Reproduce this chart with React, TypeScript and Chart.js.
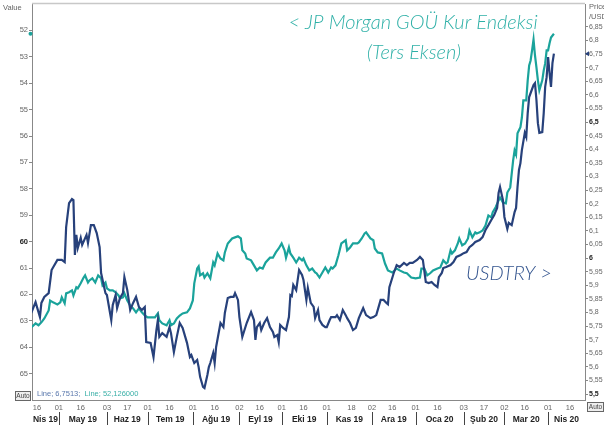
import React, { useEffect, useRef } from 'react';
import { Chart, registerables } from 'chart.js';

Chart.register(...registerables);

// Day offsets are days since 2019-04-12
const START_DATE = '2019-04-12';

const usdDays = [0,3,6,7,9,12,14,18,21,23,24,26,28,29,30,31,32,34,35,38,39,41,43,45,47,48,51,52,55,56,58,59,61,63,64,66,68,70,72,74,76,78,79,82,84,86,87,88,90,93,95,96,98,100,102,104,107,109,110,112,114,115,116,118,119,121,122,123,125,126,127,130,132,133,135,137,139,140,142,143,145,148,151,153,154,155,157,158,160,162,164,166,167,169,170,171,173,175,177,178,179,180,182,183,184,186,187,189,190,192,194,195,197,198,200,202,203,205,206,209,210,212,214,216,217,219,221,223,225,228,230,233,235,237,240,242,244,245,246,249,251,253,256,258,260,262,265,267,269,271,273,275,277,279,280,282,283,285,288,290,292,295,297,299,301,303,305,308,310,312,314,316,318,320,321,322,324,325,327,328,330,332,333,334,335,336,337,339,340,341,342,345,346,347,348,349,351,352,353,354,355,356,357,358,359];
const usdVals = [5.798,5.838,5.783,5.835,5.857,5.871,5.956,5.993,5.993,5.985,6.114,6.202,6.217,6.213,6.011,6.085,6.037,6.074,6.048,6.085,6.055,6.121,6.121,6.092,6.040,5.945,5.871,5.864,5.772,5.827,5.864,5.816,5.853,5.871,5.930,5.882,5.809,5.835,5.857,5.820,5.809,5.820,5.691,5.688,5.636,5.735,5.772,5.710,5.724,5.710,5.746,5.724,5.654,5.710,5.761,5.743,5.688,5.636,5.643,5.614,5.625,5.599,5.563,5.526,5.522,5.570,5.599,5.614,5.651,5.614,5.673,5.761,5.746,5.798,5.853,5.857,5.857,5.871,5.846,5.783,5.710,5.761,5.801,5.772,5.699,5.746,5.761,5.735,5.761,5.779,5.746,5.728,5.710,5.717,5.691,5.754,5.743,5.735,5.783,5.864,5.860,5.901,5.882,5.919,5.956,5.938,5.919,5.846,5.890,5.835,5.820,5.779,5.809,5.772,5.754,5.746,5.746,5.772,5.783,5.783,5.790,5.772,5.809,5.790,5.779,5.761,5.735,5.743,5.779,5.816,5.790,5.779,5.783,5.790,5.846,5.846,5.835,5.830,5.893,5.945,5.974,5.967,5.982,5.974,5.982,5.982,5.993,6.004,5.993,5.912,5.908,5.912,5.901,5.893,5.930,5.945,5.963,5.967,5.974,5.985,6.004,6.011,6.018,6.022,6.040,6.048,6.059,6.066,6.077,6.103,6.121,6.140,6.158,6.184,6.239,6.261,6.213,6.151,6.107,6.129,6.121,6.169,6.184,6.261,6.324,6.349,6.397,6.460,6.445,6.533,6.592,6.636,6.643,6.581,6.496,6.460,6.463,6.533,6.629,6.665,6.739,6.680,6.629,6.717,6.7513];

const jpmDays = [0,3,5,7,9,12,13,15,18,20,21,23,24,26,28,29,31,32,34,36,37,39,40,42,44,46,48,49,51,52,54,56,58,60,61,63,64,66,68,70,72,74,76,78,80,83,85,87,88,90,93,95,96,98,100,102,104,107,109,111,112,114,115,116,118,119,121,123,125,126,128,130,132,133,135,138,140,142,144,145,147,148,151,153,155,157,159,161,164,166,168,170,172,174,175,177,178,180,182,184,186,187,189,191,193,195,196,198,200,202,204,206,207,209,211,213,216,217,219,221,224,225,227,229,230,233,235,236,238,241,243,245,248,251,253,256,258,261,264,267,268,270,272,274,276,279,281,283,285,286,288,289,291,293,294,296,298,300,301,303,305,306,308,310,312,314,316,317,319,321,322,324,326,327,329,331,332,333,334,336,337,338,340,341,342,343,344,345,346,347,348,349,351,352,353,354,355,356,357,359];
const jpmVals = [63.25,63.10,63.17,63.06,62.91,62.61,62.23,62.30,62.38,62.30,62.11,62.34,61.96,61.92,61.85,62.04,61.73,61.77,61.58,61.36,61.28,61.55,61.47,61.39,61.55,61.28,61.39,61.66,61.55,61.77,61.85,61.85,61.92,62.04,62.15,62.11,61.96,62.23,62.42,62.53,62.68,62.53,62.68,62.80,62.87,62.87,62.87,62.72,62.98,63.10,63.17,62.98,63.17,63.10,62.91,62.80,62.72,62.68,62.53,62.23,61.58,61.02,60.94,61.28,61.20,61.36,61.20,61.39,60.79,60.90,60.45,60.64,60.71,60.41,60.07,59.88,59.84,59.80,59.88,60.33,60.45,60.64,60.71,60.90,61.09,60.98,61.02,60.79,60.61,60.61,60.41,60.26,60.07,60.33,60.61,60.22,60.45,60.61,60.79,60.61,60.71,60.64,60.90,61.09,61.02,61.17,61.20,61.36,61.17,60.98,61.17,60.98,61.02,60.90,60.52,60.07,59.95,60.33,60.22,60.07,60.07,60.03,59.88,59.69,59.65,59.88,59.95,60.26,60.41,60.45,60.83,61.09,61.17,61.02,61.09,61.17,61.20,61.36,61.39,61.36,61.02,61.02,61.28,61.20,61.09,61.02,60.98,60.71,60.83,60.79,60.33,60.45,60.33,60.07,59.88,60.14,60.07,59.88,59.58,59.84,59.65,59.69,59.65,59.58,59.39,59.01,59.08,58.89,58.70,58.44,58.33,58.52,58.55,58.14,57.95,56.92,56.55,56.70,55.90,55.67,55.30,54.65,54.65,53.89,53.33,53.14,52.76,52.35,52.95,53.40,53.89,54.27,53.89,53.52,53.25,52.76,52.76,52.49,52.27,52.126];

const xTickDates = ['2019-04-16','2019-05-01','2019-05-16','2019-06-03','2019-06-17','2019-07-01','2019-07-16','2019-08-01','2019-08-16','2019-09-02','2019-09-16','2019-10-01','2019-10-16','2019-11-01','2019-11-18','2019-12-02','2019-12-16','2020-01-01','2020-01-16','2020-02-03','2020-02-17','2020-03-02','2020-03-16','2020-04-01','2020-04-16'];
const monthLabels = ['Nis 19','May 19','Haz 19','Tem 19','Ağu 19','Eyl 19','Eki 19','Kas 19','Ara 19','Oca 20','Şub 20','Mar 20','Nis 20'];
const monthBreaks = ['2019-05-01','2019-06-03','2019-07-01','2019-08-01','2019-09-02','2019-10-01','2019-11-01','2019-12-02','2020-01-01','2020-02-03','2020-03-02','2020-04-01'];
const leftTicks = [52,53,54,55,56,57,58,59,60,61,62,63,64,65];
const rightTicks = [5.5,5.55,5.6,5.65,5.7,5.75,5.8,5.85,5.9,5.95,6,6.05,6.1,6.15,6.2,6.25,6.3,6.35,6.4,6.45,6.5,6.55,6.6,6.65,6.7,6.75,6.8,6.85];
const boldLeft = [60];
const boldRight = [5.5, 6, 6.5];

const BLUE = '#27417b';
const TEAL = '#1aa39b';
const FONT = "'Liberation Sans', Arial, sans-serif";

function toUTC(iso: string) {
  const [y, m, d] = iso.split('-').map(Number);
  return Date.UTC(y, m - 1, d);
}
const START = toUTC(START_DATE);
const dayOf = (iso: string) => Math.round((toUTC(iso) - START) / 86400000);
const near = (arr: number[], v: number) => arr.some((a) => Math.abs(a - v) < 1e-6);

const extras = {
  id: 'extras',
  afterDraw(chart: any) {
    const { ctx, chartArea: ca, scales } = chart;
    const xs = scales.x;
    ctx.save();
    // top frame
    ctx.strokeStyle = '#c8c8c8';
    ctx.lineWidth = 1.5;
    ctx.beginPath();
    ctx.moveTo(ca.left, ca.top - 0.5);
    ctx.lineTo(ca.right, ca.top - 0.5);
    ctx.stroke();

    // month row
    const breaks = monthBreaks.map((d) => xs.getPixelForValue(dayOf(d)));
    ctx.strokeStyle = '#444';
    ctx.lineWidth = 1;
    breaks.forEach((px) => {
      const x = Math.round(px) + 0.5;
      ctx.beginPath();
      ctx.moveTo(x, ca.bottom + 12);
      ctx.lineTo(x, ca.bottom + 25);
      ctx.stroke();
    });
    const bounds = [ca.left, ...breaks, ca.right];
    ctx.fillStyle = '#222';
    ctx.font = `bold 8.5px ${FONT}`;
    ctx.textAlign = 'center';
    ctx.textBaseline = 'middle';
    monthLabels.forEach((t, i) => {
      ctx.fillText(t, (bounds[i] + bounds[i + 1]) / 2, ca.bottom + 20);
    });

    // axis captions
    ctx.font = `7.5px ${FONT}`;
    ctx.fillStyle = '#666';
    ctx.textAlign = 'left';
    ctx.fillText('Value', 3, 8);
    ctx.fillText('Price', ca.right + 4, 7);
    ctx.fillText('/USD', ca.right + 4, 17);

    // Auto boxes
    const autoBox = (x: number, y: number, w: number, h: number) => {
      ctx.fillStyle = '#eeeeee';
      ctx.fillRect(x, y, w, h);
      ctx.strokeStyle = '#666';
      ctx.lineWidth = 1;
      ctx.strokeRect(x + 0.5, y + 0.5, w - 1, h - 1);
      ctx.fillStyle = '#444';
      ctx.font = `6.5px ${FONT}`;
      ctx.textAlign = 'center';
      ctx.fillText('Auto', x + w / 2, y + h / 2 + 0.5);
    };
    autoBox(15, 391, 16, 10);
    autoBox(587, 402, 17, 10);

    // legend values
    ctx.font = `7.5px ${FONT}`;
    ctx.textAlign = 'left';
    const l1 = 'Line; ' + String(usdVals[usdVals.length - 1]).replace('.', ',') + ';  ';
    ctx.fillStyle = '#5a78ad';
    ctx.fillText(l1, ca.left + 5, ca.bottom - 6);
    const w1 = ctx.measureText(l1).width;
    ctx.fillStyle = '#3bb0a8';
    ctx.fillText('Line; ' + jpmVals[jpmVals.length - 1].toFixed(6).replace('.', ','), ca.left + 5 + w1, ca.bottom - 6);

    // last-value markers
    const yl = scales.yL.getPixelForValue(jpmVals[jpmVals.length - 1]);
    ctx.fillStyle = TEAL;
    ctx.beginPath();
    ctx.arc(ca.left - 1.5, yl, 2, 0, Math.PI * 2);
    ctx.fill();
    const yr = scales.yR.getPixelForValue(usdVals[usdVals.length - 1]);
    ctx.fillStyle = BLUE;
    ctx.beginPath();
    ctx.moveTo(ca.right, yr);
    ctx.lineTo(ca.right + 4, yr - 2.5);
    ctx.lineTo(ca.right + 4, yr + 2.5);
    ctx.closePath();
    ctx.fill();

    // annotations
    ctx.font = `italic 300 20px Lato, 'Open Sans', sans-serif`;
    ctx.fillStyle = '#2fb0a7';
    ctx.textAlign = 'center';
    ctx.fillText('< JP Morgan GOÜ Kur Endeksi', 413, 23);
    ctx.fillText('(Ters Eksen)', 414, 53);
    ctx.fillStyle = '#34558f';
    ctx.textAlign = 'left';
    ctx.fillText('USDTRY >', 466, 274);
    ctx.restore();
  },
};

export default function App() {
  const ref = useRef<HTMLCanvasElement | null>(null);
  useEffect(() => {
    document.body.style.margin = '0';
    const canvas = ref.current;
    if (!canvas) return;
    const chart = new Chart(canvas, {
      type: 'line',
      data: {
        datasets: [
          {
            label: 'USDTRY',
            data: usdDays.map((d, i) => ({ x: d, y: usdVals[i] })),
            yAxisID: 'yR',
            borderColor: BLUE,
            borderWidth: 2.2,
            pointRadius: 0,
            tension: 0,
            order: 0,
          },
          {
            label: 'JPM',
            data: jpmDays.map((d, i) => ({ x: d, y: jpmVals[i] })),
            yAxisID: 'yL',
            borderColor: TEAL,
            borderWidth: 2.2,
            pointRadius: 0,
            tension: 0,
            order: 1,
          },
        ],
      },
      options: {
        responsive: false,
        animation: false,
        events: [],
        layout: { padding: { top: 4, left: 0, right: 0, bottom: 0 } },
        plugins: { legend: { display: false }, tooltip: { enabled: false } },
        scales: {
          x: {
            type: 'linear',
            min: 0.55,
            max: 380.35,
            grid: { display: false, drawTicks: false, tickLength: 0 },
            border: { display: true, color: '#888' },
            afterBuildTicks: (s: any) => {
              s.ticks = xTickDates.map((d) => ({ value: dayOf(d) }));
            },
            afterFit: (s: any) => {
              s.height = 31;
              s.paddingLeft = 0;
              s.paddingRight = 0;
            },
            ticks: {
              autoSkip: false,
              maxRotation: 0,
              minRotation: 0,
              padding: 3,
              color: '#666',
              font: { family: FONT, size: 7.5 },
              callback: (v: any) => {
                const dt = new Date(START + Number(v) * 86400000);
                return String(dt.getUTCDate()).padStart(2, '0');
              },
            },
          },
          yL: {
            type: 'linear',
            position: 'left',
            reverse: true,
            min: 51,
            max: 66,
            grid: { display: true, drawOnChartArea: false, drawTicks: true, tickLength: 3, color: '#888' },
            border: { display: true, color: '#888' },
            afterBuildTicks: (s: any) => {
              s.ticks = leftTicks.map((v) => ({ value: v }));
            },
            afterFit: (s: any) => {
              s.width = 32;
              s.paddingTop = 0;
              s.paddingBottom = 0;
            },
            ticks: {
              padding: 1,
              color: (c: any) => (near(boldLeft, c.tick?.value) ? '#222' : '#666'),
              font: (c: any) => ({ family: FONT, size: 7.5, weight: near(boldLeft, c.tick?.value) ? 'bold' : 'normal' }),
              callback: (v: any) => String(v),
            },
          },
          yR: {
            type: 'linear',
            position: 'right',
            min: 5.478,
            max: 6.934,
            grid: { display: true, drawOnChartArea: false, drawTicks: true, tickLength: 3, color: '#888' },
            border: { display: true, color: '#888' },
            afterBuildTicks: (s: any) => {
              s.ticks = rightTicks.map((v) => ({ value: v }));
            },
            afterFit: (s: any) => {
              s.width = 19;
              s.paddingTop = 0;
              s.paddingBottom = 0;
            },
            ticks: {
              padding: 1,
              color: (c: any) => (near(boldRight, c.tick?.value) ? '#222' : '#666'),
              font: (c: any) => ({ family: FONT, size: 7, weight: near(boldRight, c.tick?.value) ? 'bold' : 'normal' }),
              callback: (v: any) => String(+Number(v).toFixed(2)).replace('.', ','),
            },
          },
        },
      },
      plugins: [extras],
    });
    return () => chart.destroy();
  }, []);
  return (
    <div style={{ width: 604, height: 431 }}>
      <canvas ref={ref} width={604} height={431} style={{ display: 'block' }} />
    </div>
  );
}
